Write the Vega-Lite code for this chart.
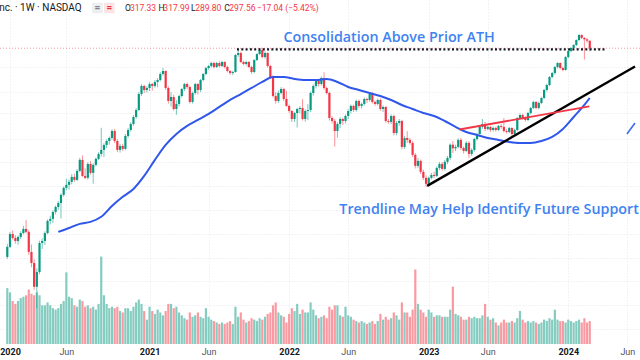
{
"$schema":"https://vega.github.io/schema/vega-lite/v6.json",
"width":640,"height":344,
"autosize":{"type":"none"},
"padding":{"left":0,"top":0,"right":0,"bottom":16},
"background":"#ffffff",
"config":{"view":{"stroke":null},"font":"Roboto","text":{"font":"Roboto"}},
"datasets":{
"w":[
{"d":"2019-12-30","o":49.6,"h":55.5,"l":48.8,"c":54.1,"v":39},
{"d":"2020-01-06","o":54.1,"h":61.5,"l":53.5,"c":60.4,"v":36},
{"d":"2020-01-13","o":60.4,"h":62.3,"l":57.6,"c":58.4,"v":30},
{"d":"2020-01-20","o":58.4,"h":59.8,"l":55.6,"c":56.9,"v":28},
{"d":"2020-01-27","o":56.9,"h":59.6,"l":55.1,"c":58.9,"v":30},
{"d":"2020-02-03","o":58.9,"h":61.8,"l":57.8,"c":60.9,"v":32},
{"d":"2020-02-10","o":60.9,"h":64.8,"l":60.2,"c":63.1,"v":33},
{"d":"2020-02-17","o":63.1,"h":68.2,"l":60.6,"c":61.5,"v":34},
{"d":"2020-02-24","o":61.5,"h":62.4,"l":50.5,"c":51.8,"v":38},
{"d":"2020-03-02","o":51.8,"h":55.2,"l":45.4,"c":47.1,"v":35},
{"d":"2020-03-09","o":47.1,"h":48.6,"l":37.4,"c":38.4,"v":34},
{"d":"2020-03-16","o":38.4,"h":45.0,"l":31.9,"c":43.6,"v":36},
{"d":"2020-03-23","o":43.6,"h":57.0,"l":42.8,"c":55.9,"v":34},
{"d":"2020-03-30","o":55.9,"h":58.2,"l":53.1,"c":56.9,"v":27},
{"d":"2020-04-06","o":56.9,"h":61.9,"l":55.0,"c":60.9,"v":27},
{"d":"2020-04-13","o":60.9,"h":68.4,"l":60.2,"c":67.6,"v":29},
{"d":"2020-04-20","o":67.6,"h":70.6,"l":65.5,"c":68.8,"v":27},
{"d":"2020-04-27","o":68.8,"h":74.0,"l":66.4,"c":73.0,"v":25},
{"d":"2020-05-04","o":73.0,"h":77.2,"l":71.5,"c":76.2,"v":24},
{"d":"2020-05-11","o":76.2,"h":80.1,"l":74.4,"c":78.8,"v":25},
{"d":"2020-05-18","o":78.8,"h":85.6,"l":69.0,"c":84.5,"v":28},
{"d":"2020-05-25","o":84.5,"h":90.8,"l":83.2,"c":89.7,"v":30},
{"d":"2020-06-01","o":89.7,"h":97.0,"l":88.0,"c":92.1,"v":50},
{"d":"2020-06-08","o":92.1,"h":96.4,"l":88.4,"c":94.5,"v":33},
{"d":"2020-06-15","o":94.5,"h":101.0,"l":92.5,"c":98.6,"v":32},
{"d":"2020-06-22","o":98.6,"h":101.5,"l":94.6,"c":96.1,"v":27},
{"d":"2020-06-29","o":96.1,"h":105.4,"l":95.0,"c":103.8,"v":26},
{"d":"2020-07-06","o":103.8,"h":116.0,"l":102.6,"c":114.1,"v":31},
{"d":"2020-07-13","o":114.1,"h":118.5,"l":98.6,"c":99.4,"v":30},
{"d":"2020-07-20","o":99.4,"h":106.2,"l":96.6,"c":97.8,"v":26},
{"d":"2020-07-27","o":97.8,"h":111.8,"l":96.5,"c":110.2,"v":27},
{"d":"2020-08-03","o":110.2,"h":113.0,"l":100.6,"c":102.1,"v":25},
{"d":"2020-08-10","o":102.1,"h":110.9,"l":93.0,"c":109.3,"v":26},
{"d":"2020-08-17","o":109.3,"h":116.5,"l":107.8,"c":115.1,"v":24},
{"d":"2020-08-24","o":115.1,"h":121.9,"l":113.8,"c":120.1,"v":28},
{"d":"2020-08-31","o":120.1,"h":150.3,"l":117.5,"c":124.3,"v":61},
{"d":"2020-09-07","o":124.3,"h":131.6,"l":117.0,"c":129.7,"v":34},
{"d":"2020-09-14","o":129.7,"h":136.0,"l":126.4,"c":134.2,"v":28},
{"d":"2020-09-21","o":134.2,"h":139.6,"l":130.0,"c":137.7,"v":25},
{"d":"2020-09-28","o":137.7,"h":148.4,"l":135.8,"c":146.2,"v":26},
{"d":"2020-10-05","o":146.2,"h":148.8,"l":132.0,"c":134.2,"v":25},
{"d":"2020-10-12","o":134.2,"h":136.2,"l":122.0,"c":124.3,"v":26},
{"d":"2020-10-19","o":124.3,"h":130.8,"l":121.5,"c":128.6,"v":23},
{"d":"2020-10-26","o":128.6,"h":131.0,"l":123.2,"c":125.4,"v":22},
{"d":"2020-11-02","o":125.4,"h":142.5,"l":124.0,"c":140.1,"v":25},
{"d":"2020-11-09","o":140.1,"h":149.9,"l":137.5,"c":147.5,"v":25},
{"d":"2020-11-16","o":147.5,"h":157.8,"l":145.4,"c":155.3,"v":23},
{"d":"2020-11-23","o":155.3,"h":167.5,"l":153.0,"c":164.9,"v":26},
{"d":"2020-11-30","o":164.9,"h":178.0,"l":162.3,"c":175.1,"v":29},
{"d":"2020-12-07","o":175.1,"h":204.0,"l":173.5,"c":200.8,"v":31},
{"d":"2020-12-14","o":200.8,"h":218.5,"l":197.6,"c":215.2,"v":28},
{"d":"2020-12-21","o":215.2,"h":217.4,"l":202.6,"c":207.9,"v":23},
{"d":"2020-12-28","o":207.9,"h":214.8,"l":203.5,"c":211.5,"v":17},
{"d":"2021-01-04","o":211.5,"h":222.3,"l":206.0,"c":218.9,"v":26},
{"d":"2021-01-11","o":218.9,"h":221.0,"l":206.5,"c":215.2,"v":23},
{"d":"2021-01-18","o":215.2,"h":226.3,"l":212.0,"c":222.7,"v":21},
{"d":"2021-01-25","o":222.7,"h":230.0,"l":212.8,"c":226.5,"v":24},
{"d":"2021-02-01","o":226.5,"h":242.2,"l":224.0,"c":238.4,"v":22},
{"d":"2021-02-08","o":238.4,"h":251.3,"l":235.0,"c":244.7,"v":20},
{"d":"2021-02-15","o":244.7,"h":246.0,"l":208.0,"c":211.5,"v":23},
{"d":"2021-02-22","o":211.5,"h":214.5,"l":185.0,"c":189.2,"v":28},
{"d":"2021-03-01","o":189.2,"h":204.0,"l":180.2,"c":195.7,"v":28},
{"d":"2021-03-08","o":195.7,"h":199.5,"l":174.0,"c":176.6,"v":25},
{"d":"2021-03-15","o":176.6,"h":190.5,"l":168.0,"c":184.4,"v":26},
{"d":"2021-03-22","o":184.4,"h":199.8,"l":180.6,"c":197.4,"v":22},
{"d":"2021-03-29","o":197.4,"h":211.3,"l":194.8,"c":209.7,"v":20},
{"d":"2021-04-05","o":209.7,"h":221.0,"l":206.0,"c":218.9,"v":18},
{"d":"2021-04-12","o":218.9,"h":221.6,"l":210.0,"c":213.3,"v":17},
{"d":"2021-04-19","o":213.3,"h":215.6,"l":185.0,"c":187.6,"v":22},
{"d":"2021-04-26","o":187.6,"h":204.8,"l":185.2,"c":202.6,"v":19},
{"d":"2021-05-03","o":202.6,"h":221.0,"l":199.6,"c":218.9,"v":20},
{"d":"2021-05-10","o":218.9,"h":220.5,"l":200.0,"c":207.9,"v":22},
{"d":"2021-05-17","o":207.9,"h":228.6,"l":204.0,"c":226.5,"v":19},
{"d":"2021-05-24","o":226.5,"h":240.5,"l":224.0,"c":238.4,"v":18},
{"d":"2021-05-31","o":238.4,"h":253.5,"l":236.0,"c":251.1,"v":25},
{"d":"2021-06-07","o":251.1,"h":258.0,"l":247.5,"c":255.4,"v":19},
{"d":"2021-06-14","o":255.4,"h":264.8,"l":252.0,"c":262.0,"v":17},
{"d":"2021-06-21","o":262.0,"h":265.0,"l":250.0,"c":253.2,"v":16},
{"d":"2021-06-28","o":253.2,"h":264.6,"l":250.8,"c":262.0,"v":15},
{"d":"2021-07-05","o":262.0,"h":266.0,"l":252.4,"c":255.4,"v":14},
{"d":"2021-07-12","o":255.4,"h":267.0,"l":253.0,"c":264.3,"v":15},
{"d":"2021-07-19","o":264.3,"h":266.2,"l":250.0,"c":253.2,"v":14},
{"d":"2021-07-26","o":253.2,"h":256.0,"l":242.0,"c":244.7,"v":15},
{"d":"2021-08-02","o":244.7,"h":247.0,"l":236.5,"c":240.5,"v":16},
{"d":"2021-08-09","o":240.5,"h":245.0,"l":236.0,"c":242.6,"v":14},
{"d":"2021-08-16","o":242.6,"h":283.0,"l":241.0,"c":280.6,"v":26},
{"d":"2021-08-23","o":280.6,"h":293.0,"l":276.0,"c":285.5,"v":19},
{"d":"2021-08-30","o":285.5,"h":289.0,"l":262.0,"c":264.3,"v":22},
{"d":"2021-09-06","o":264.3,"h":267.0,"l":257.0,"c":259.8,"v":17},
{"d":"2021-09-13","o":259.8,"h":267.0,"l":256.0,"c":264.3,"v":15},
{"d":"2021-09-20","o":264.3,"h":266.5,"l":250.5,"c":253.2,"v":16},
{"d":"2021-09-27","o":253.2,"h":256.0,"l":238.0,"c":242.6,"v":18},
{"d":"2021-10-04","o":242.6,"h":271.0,"l":240.0,"c":268.8,"v":17},
{"d":"2021-10-11","o":268.8,"h":285.0,"l":266.5,"c":283.0,"v":16},
{"d":"2021-10-18","o":283.0,"h":297.0,"l":280.5,"c":292.9,"v":18},
{"d":"2021-10-25","o":292.9,"h":298.5,"l":273.0,"c":275.8,"v":17},
{"d":"2021-11-01","o":275.8,"h":290.0,"l":272.0,"c":285.5,"v":19},
{"d":"2021-11-08","o":285.5,"h":287.5,"l":252.0,"c":255.4,"v":21},
{"d":"2021-11-15","o":255.4,"h":258.0,"l":229.0,"c":232.4,"v":22},
{"d":"2021-11-22","o":232.4,"h":236.0,"l":195.0,"c":197.4,"v":27},
{"d":"2021-11-29","o":197.4,"h":204.0,"l":185.0,"c":189.2,"v":29},
{"d":"2021-12-06","o":189.2,"h":207.0,"l":186.0,"c":202.6,"v":22},
{"d":"2021-12-13","o":202.6,"h":213.0,"l":200.0,"c":209.7,"v":20},
{"d":"2021-12-20","o":209.7,"h":212.0,"l":189.0,"c":192.4,"v":19},
{"d":"2021-12-27","o":192.4,"h":206.5,"l":180.0,"c":181.3,"v":15},
{"d":"2022-01-03","o":181.3,"h":183.5,"l":171.0,"c":173.6,"v":21},
{"d":"2022-01-10","o":173.6,"h":175.0,"l":158.0,"c":162.1,"v":25},
{"d":"2022-01-17","o":162.1,"h":172.0,"l":158.0,"c":170.6,"v":23},
{"d":"2022-01-24","o":170.6,"h":178.5,"l":150.5,"c":176.6,"v":28},
{"d":"2022-01-31","o":176.6,"h":181.0,"l":170.0,"c":178.2,"v":21},
{"d":"2022-02-07","o":178.2,"h":192.0,"l":160.0,"c":162.1,"v":24},
{"d":"2022-02-14","o":162.1,"h":176.0,"l":158.5,"c":173.6,"v":22},
{"d":"2022-02-21","o":173.6,"h":184.0,"l":160.5,"c":175.1,"v":22},
{"d":"2022-02-28","o":175.1,"h":205.0,"l":172.0,"c":202.6,"v":29},
{"d":"2022-03-07","o":202.6,"h":218.0,"l":198.0,"c":215.2,"v":24},
{"d":"2022-03-14","o":215.2,"h":228.0,"l":210.5,"c":224.6,"v":20},
{"d":"2022-03-21","o":224.6,"h":227.0,"l":214.0,"c":218.9,"v":18},
{"d":"2022-03-28","o":218.9,"h":233.5,"l":216.0,"c":230.5,"v":19},
{"d":"2022-04-04","o":230.5,"h":242.0,"l":208.0,"c":211.5,"v":20},
{"d":"2022-04-11","o":211.5,"h":214.0,"l":200.0,"c":202.6,"v":18},
{"d":"2022-04-18","o":202.6,"h":205.0,"l":160.0,"c":163.5,"v":26},
{"d":"2022-04-25","o":163.5,"h":166.0,"l":156.0,"c":159.3,"v":24},
{"d":"2022-05-02","o":159.3,"h":162.0,"l":128.0,"c":146.2,"v":27},
{"d":"2022-05-09","o":146.2,"h":157.5,"l":138.0,"c":155.3,"v":27},
{"d":"2022-05-16","o":155.3,"h":164.5,"l":150.0,"c":162.1,"v":20},
{"d":"2022-05-23","o":162.1,"h":164.0,"l":154.0,"c":159.3,"v":19},
{"d":"2022-05-30","o":159.3,"h":168.5,"l":156.0,"c":166.3,"v":26},
{"d":"2022-06-06","o":166.3,"h":176.0,"l":162.0,"c":173.6,"v":20},
{"d":"2022-06-13","o":173.6,"h":183.5,"l":170.0,"c":181.3,"v":19},
{"d":"2022-06-20","o":181.3,"h":183.0,"l":172.0,"c":175.1,"v":17},
{"d":"2022-06-27","o":175.1,"h":191.5,"l":172.5,"c":189.2,"v":16},
{"d":"2022-07-04","o":189.2,"h":191.0,"l":178.0,"c":181.3,"v":15},
{"d":"2022-07-11","o":181.3,"h":186.5,"l":177.5,"c":184.4,"v":16},
{"d":"2022-07-18","o":184.4,"h":195.0,"l":182.0,"c":192.4,"v":15},
{"d":"2022-07-25","o":192.4,"h":194.5,"l":186.0,"c":190.8,"v":14},
{"d":"2022-08-01","o":190.8,"h":203.0,"l":188.0,"c":200.8,"v":15},
{"d":"2022-08-08","o":200.8,"h":204.0,"l":185.0,"c":187.6,"v":16},
{"d":"2022-08-15","o":187.6,"h":190.0,"l":181.5,"c":184.4,"v":14},
{"d":"2022-08-22","o":184.4,"h":193.0,"l":182.0,"c":190.8,"v":16},
{"d":"2022-08-29","o":190.8,"h":193.5,"l":174.0,"c":176.6,"v":21},
{"d":"2022-09-05","o":176.6,"h":182.0,"l":172.0,"c":179.7,"v":17},
{"d":"2022-09-12","o":179.7,"h":181.0,"l":157.0,"c":159.3,"v":19},
{"d":"2022-09-19","o":159.3,"h":162.0,"l":155.5,"c":158.0,"v":17},
{"d":"2022-09-26","o":158.0,"h":168.5,"l":155.0,"c":166.3,"v":18},
{"d":"2022-10-03","o":166.3,"h":168.0,"l":141.0,"c":143.7,"v":22},
{"d":"2022-10-10","o":143.7,"h":159.0,"l":141.0,"c":156.6,"v":20},
{"d":"2022-10-17","o":156.6,"h":162.0,"l":153.0,"c":159.3,"v":17},
{"d":"2022-10-24","o":159.3,"h":161.0,"l":125.0,"c":127.5,"v":29},
{"d":"2022-10-31","o":127.5,"h":140.0,"l":125.5,"c":137.7,"v":22},
{"d":"2022-11-07","o":137.7,"h":146.0,"l":132.0,"c":135.4,"v":22},
{"d":"2022-11-14","o":135.4,"h":138.0,"l":130.0,"c":132.0,"v":19},
{"d":"2022-11-21","o":132.0,"h":134.0,"l":117.0,"c":119.1,"v":24},
{"d":"2022-11-28","o":119.1,"h":121.0,"l":106.0,"c":108.4,"v":52},
{"d":"2022-12-05","o":108.4,"h":116.0,"l":106.5,"c":113.1,"v":28},
{"d":"2022-12-12","o":113.1,"h":114.5,"l":101.0,"c":103.0,"v":24},
{"d":"2022-12-19","o":103.0,"h":105.0,"l":96.0,"c":97.8,"v":22},
{"d":"2022-12-26","o":97.8,"h":100.0,"l":90.5,"c":92.9,"v":19},
{"d":"2023-01-02","o":92.9,"h":99.0,"l":92.0,"c":97.8,"v":24},
{"d":"2023-01-09","o":97.8,"h":102.0,"l":96.5,"c":100.3,"v":22},
{"d":"2023-01-16","o":100.3,"h":103.0,"l":97.5,"c":99.4,"v":19},
{"d":"2023-01-23","o":99.4,"h":108.0,"l":98.5,"c":106.5,"v":20},
{"d":"2023-01-30","o":106.5,"h":112.0,"l":104.5,"c":110.2,"v":20},
{"d":"2023-02-06","o":110.2,"h":112.0,"l":104.0,"c":105.6,"v":19},
{"d":"2023-02-13","o":105.6,"h":114.0,"l":104.0,"c":112.2,"v":19},
{"d":"2023-02-20","o":112.2,"h":118.0,"l":110.0,"c":116.1,"v":19},
{"d":"2023-02-27","o":116.1,"h":131.5,"l":114.0,"c":130.0,"v":24},
{"d":"2023-03-06","o":130.0,"h":134.0,"l":121.0,"c":126.0,"v":40},
{"d":"2023-03-13","o":126.0,"h":130.0,"l":123.0,"c":127.5,"v":21},
{"d":"2023-03-20","o":127.5,"h":137.5,"l":126.0,"c":135.4,"v":20},
{"d":"2023-03-27","o":135.4,"h":138.0,"l":124.0,"c":126.4,"v":19},
{"d":"2023-04-03","o":126.4,"h":128.0,"l":120.5,"c":123.2,"v":17},
{"d":"2023-04-10","o":123.2,"h":134.0,"l":122.0,"c":132.0,"v":17},
{"d":"2023-04-17","o":132.0,"h":134.0,"l":116.0,"c":120.1,"v":19},
{"d":"2023-04-24","o":120.1,"h":126.0,"l":118.0,"c":124.3,"v":18},
{"d":"2023-05-01","o":124.3,"h":138.0,"l":122.5,"c":136.5,"v":19},
{"d":"2023-05-08","o":136.5,"h":144.0,"l":134.5,"c":142.5,"v":18},
{"d":"2023-05-15","o":142.5,"h":153.0,"l":140.5,"c":151.4,"v":18},
{"d":"2023-05-22","o":151.4,"h":162.0,"l":149.0,"c":155.3,"v":20},
{"d":"2023-05-29","o":155.3,"h":158.0,"l":146.0,"c":148.8,"v":28},
{"d":"2023-06-05","o":148.8,"h":153.5,"l":147.0,"c":151.4,"v":19},
{"d":"2023-06-12","o":151.4,"h":153.0,"l":145.0,"c":147.5,"v":17},
{"d":"2023-06-19","o":147.5,"h":152.0,"l":145.5,"c":150.1,"v":18},
{"d":"2023-06-26","o":150.1,"h":151.5,"l":145.5,"c":147.5,"v":15},
{"d":"2023-07-03","o":147.5,"h":154.0,"l":146.0,"c":152.7,"v":13},
{"d":"2023-07-10","o":152.7,"h":155.0,"l":149.0,"c":151.4,"v":15},
{"d":"2023-07-17","o":151.4,"h":163.5,"l":144.5,"c":146.2,"v":17},
{"d":"2023-07-24","o":146.2,"h":148.5,"l":143.0,"c":145.0,"v":15},
{"d":"2023-07-31","o":145.0,"h":151.5,"l":143.5,"c":150.1,"v":15},
{"d":"2023-08-07","o":150.1,"h":151.0,"l":140.0,"c":142.5,"v":16},
{"d":"2023-08-14","o":142.5,"h":149.0,"l":141.0,"c":147.5,"v":15},
{"d":"2023-08-21","o":147.5,"h":165.0,"l":146.0,"c":163.5,"v":18},
{"d":"2023-08-28","o":163.5,"h":170.0,"l":161.0,"c":167.7,"v":23},
{"d":"2023-09-04","o":167.7,"h":169.5,"l":161.0,"c":163.5,"v":17},
{"d":"2023-09-11","o":163.5,"h":165.5,"l":158.5,"c":160.7,"v":15},
{"d":"2023-09-18","o":160.7,"h":172.5,"l":159.0,"c":170.6,"v":16},
{"d":"2023-09-25","o":170.6,"h":180.0,"l":168.5,"c":178.2,"v":15},
{"d":"2023-10-02","o":178.2,"h":189.5,"l":176.5,"c":187.6,"v":16},
{"d":"2023-10-09","o":187.6,"h":189.0,"l":176.0,"c":178.2,"v":15},
{"d":"2023-10-16","o":178.2,"h":188.0,"l":176.0,"c":186.0,"v":14},
{"d":"2023-10-23","o":186.0,"h":196.0,"l":184.0,"c":194.1,"v":15},
{"d":"2023-10-30","o":194.1,"h":210.0,"l":192.5,"c":207.9,"v":17},
{"d":"2023-11-06","o":207.9,"h":219.0,"l":205.0,"c":217.0,"v":16},
{"d":"2023-11-13","o":217.0,"h":234.5,"l":215.0,"c":232.4,"v":18},
{"d":"2023-11-20","o":232.4,"h":242.5,"l":230.0,"c":240.5,"v":17},
{"d":"2023-11-27","o":240.5,"h":255.5,"l":237.0,"c":253.2,"v":24},
{"d":"2023-12-04","o":253.2,"h":264.0,"l":250.0,"c":262.0,"v":17},
{"d":"2023-12-11","o":262.0,"h":263.5,"l":248.0,"c":251.1,"v":16},
{"d":"2023-12-18","o":251.1,"h":254.0,"l":244.0,"c":246.8,"v":16},
{"d":"2023-12-25","o":246.8,"h":278.0,"l":245.5,"c":275.8,"v":15},
{"d":"2024-01-01","o":275.8,"h":293.0,"l":273.0,"c":290.4,"v":17},
{"d":"2024-01-08","o":290.4,"h":300.0,"l":287.0,"c":298.0,"v":16},
{"d":"2024-01-15","o":298.0,"h":308.0,"l":295.0,"c":305.8,"v":15},
{"d":"2024-01-22","o":305.8,"h":321.0,"l":303.0,"c":319.2,"v":16},
{"d":"2024-01-29","o":319.2,"h":336.0,"l":316.0,"c":333.2,"v":17},
{"d":"2024-02-05","o":333.2,"h":335.5,"l":322.0,"c":324.9,"v":15},
{"d":"2024-02-12","o":324.9,"h":327.5,"l":270.0,"c":321.0,"v":18},
{"d":"2024-02-19","o":321.0,"h":325.0,"l":312.0,"c":317.33,"v":15},
{"d":"2024-02-26","o":317.33,"h":317.99,"l":289.8,"c":297.56,"v":16}
],
"ma":[
{"d":"2020-05-11","m":61.5},{"d":"2020-06-08","m":63.6},{"d":"2020-07-06","m":65.9},{"d":"2020-08-03","m":67.0},{"d":"2020-08-31","m":70.0},{"d":"2020-09-28","m":76.8},{"d":"2020-10-26","m":83.1},{"d":"2020-11-23","m":88.9},{"d":"2020-12-21","m":99.4},{"d":"2021-01-18","m":114.1},{"d":"2021-02-15","m":129.7},{"d":"2021-03-15","m":142.5},{"d":"2021-04-12","m":152.7},{"d":"2021-05-10","m":160.7},{"d":"2021-06-07","m":169.2},{"d":"2021-07-05","m":179.7},{"d":"2021-08-02","m":190.8},{"d":"2021-08-30","m":200.8},{"d":"2021-09-27","m":211.5},{"d":"2021-10-25","m":222.7},{"d":"2021-11-22","m":232.4},{"d":"2021-12-20","m":232.4},{"d":"2022-01-17","m":228.5},{"d":"2022-02-14","m":226.5},{"d":"2022-03-14","m":226.5},{"d":"2022-04-11","m":228.5},{"d":"2022-05-09","m":222.7},{"d":"2022-06-06","m":213.3},{"d":"2022-07-04","m":207.9},{"d":"2022-08-01","m":202.6},{"d":"2022-08-29","m":197.4},{"d":"2022-09-26","m":190.8},{"d":"2022-10-24","m":182.8},{"d":"2022-11-21","m":176.6},{"d":"2022-12-19","m":170.6},{"d":"2023-01-16","m":166.3},{"d":"2023-02-13","m":159.3},{"d":"2023-03-13","m":151.4},{"d":"2023-04-10","m":145.0},{"d":"2023-05-08","m":141.3},{"d":"2023-06-05","m":137.7},{"d":"2023-07-03","m":135.4},{"d":"2023-07-31","m":133.1},{"d":"2023-08-28","m":132.0},{"d":"2023-09-25","m":132.0},{"d":"2023-10-23","m":134.2},{"d":"2023-11-20","m":138.9},{"d":"2023-12-18","m":148.8},{"d":"2024-01-15","m":164.9},{"d":"2024-02-12","m":182.8},{"d":"2024-02-26","m":194.1}
],
"draw":[
{"g":"ath","d":"2021-08-20","p":294.5},{"g":"ath","d":"2024-04-06","p":294.5},
{"g":"trend","d":"2022-12-29","p":91.3},{"g":"trend","d":"2024-06-23","p":254.3},
{"g":"red","d":"2023-03-23","p":148.1},{"g":"red","d":"2024-02-25","p":180.7},
{"g":"blue","d":"2024-06-02","p":142.5},{"g":"blue","d":"2024-06-23","p":156.6}
],
"notes":[
{"d":"2021-12-19","p":326.1,"t":"Consolidation Above Prior ATH"},
{"d":"2022-05-14","p":74.3,"t":"Trendline May Help Identify Future Support"}
],
"hdr":[
{"d":"2020-07-11","p":420,"t":"CrowdStrike Holdings, Inc. · 1W · NASDAQ","k":"title"},
{"d":"2020-08-21","p":420,"t":"=","k":"button"},
{"d":"2020-09-21","p":420,"t":"=","k":"button-down"},
{"d":"2020-11-01","p":420,"t":"O","k":"label"},
{"d":"2020-11-14","p":420,"t":"317.33","k":"value"},
{"d":"2021-01-27","p":420,"t":"H","k":"label"},
{"d":"2021-02-09","p":420,"t":"317.99","k":"value"},
{"d":"2021-04-22","p":420,"t":"L","k":"label"},
{"d":"2021-05-03","p":420,"t":"289.80","k":"value"},
{"d":"2021-07-18","p":420,"t":"C","k":"label"},
{"d":"2021-07-31","p":420,"t":"297.56","k":"value"},
{"d":"2021-10-11","p":420,"t":"−17.04 (−5.42%)","k":"value"}
],
"last":[{"p":297.56}]
},
"layer":[
{"data":{"name":"w"},"mark":{"type":"bar","size":2.2},
 "encoding":{
  "x":{"field":"d","type":"temporal","title":null,
   "scale":{"domain":[{"year":2019,"month":12,"date":24,"utc":true},{"year":2024,"month":6,"date":23,"utc":true}],"nice":false},
   "axis":{"values":[{"year":2020,"month":1,"date":6,"utc":true},{"year":2020,"month":6,"date":1,"utc":true},{"year":2021,"month":1,"date":4,"utc":true},{"year":2021,"month":6,"date":7,"utc":true},{"year":2022,"month":1,"date":3,"utc":true},{"year":2022,"month":6,"date":6,"utc":true},{"year":2023,"month":1,"date":2,"utc":true},{"year":2023,"month":6,"date":5,"utc":true},{"year":2024,"month":1,"date":1,"utc":true},{"year":2024,"month":6,"date":3,"utc":true}],
    "grid":true,"gridColor":"#e3e6ee","gridDash":[1,2],"domain":false,"ticks":false,"tickSize":0,"labelPadding":3,"labelFontSize":9,"labelFont":"Roboto",
    "labelColor":{"condition":{"test":"utcmonth(datum.value)==0","value":"#131722"},"value":"#50535e"},
    "labelFontWeight":{"condition":{"test":"utcmonth(datum.value)==0","value":"bold"},"value":"normal"},
    "labelFlush":false,"labelOverlap":false,"labelBound":false,
    "labelExpr":"utcmonth(datum.value)==0 ? utcFormat(datum.value,'%Y') : 'Jun'"}},
  "y":{"field":"v","type":"quantitative","title":null,"scale":{"domain":[0,240],"nice":false,"zero":true},"axis":null},
  "color":{"condition":{"test":"datum.c >= datum.o","value":"#84ccc0"},"value":"#f99aa2"}
 }},
{"layer":[
 {"data":{"name":"last"},"mark":{"type":"rule","color":"#f23645","strokeDash":[1,2],"strokeWidth":1,"opacity":0.55},
  "encoding":{"y":{"field":"p","type":"quantitative","title":null,"scale":{"type":"log","domain":[23.5,450],"nice":false,"zero":false},
   "axis":{"values":[253.1,204.4,170.6,136.5,112.2,91.3,74.3,60.4,49.2,40.4,32.9,26.8],"labels":false,"ticks":false,"domain":false,"grid":true,"gridColor":"#e9e4ea","gridDash":[1,2],"title":null}}}},
 {"data":{"name":"w"},"mark":{"type":"rule","strokeWidth":1,"opacity":0.55},
  "encoding":{"x":{"field":"d","type":"temporal","title":null},
   "y":{"field":"l","type":"quantitative","title":null,"scale":{"type":"log","domain":[23.5,450],"nice":false,"zero":false}},
   "y2":{"field":"h"},
   "color":{"condition":{"test":"datum.c >= datum.o","value":"#089981"},"value":"#f23645"}}},
 {"data":{"name":"w"},"mark":{"type":"bar","size":2.2},
  "encoding":{"x":{"field":"d","type":"temporal","title":null},
   "y":{"field":"o","type":"quantitative","title":null,"scale":{"type":"log","domain":[23.5,450],"nice":false,"zero":false}},
   "y2":{"field":"c"},
   "color":{"condition":{"test":"datum.c >= datum.o","value":"#089981"},"value":"#f23645"}}},
 {"data":{"name":"ma"},"mark":{"type":"line","color":"#2f57ec","strokeWidth":2,"interpolate":"monotone"},
  "encoding":{"x":{"field":"d","type":"temporal","title":null},
   "y":{"field":"m","type":"quantitative","title":null,"scale":{"type":"log","domain":[23.5,450],"nice":false,"zero":false}}}},
 {"data":{"name":"draw"},"transform":[{"filter":"datum.g=='ath'"}],"mark":{"type":"line","color":"#131722","strokeWidth":2.2,"strokeDash":[2,2.3]},
  "encoding":{"x":{"field":"d","type":"temporal","title":null},"y":{"field":"p","type":"quantitative","title":null,"scale":{"type":"log","domain":[23.5,450],"nice":false,"zero":false}}}},
 {"data":{"name":"draw"},"transform":[{"filter":"datum.g=='trend'"}],"mark":{"type":"line","color":"#000000","strokeWidth":2.4,"clip":true},
  "encoding":{"x":{"field":"d","type":"temporal","title":null},"y":{"field":"p","type":"quantitative","title":null,"scale":{"type":"log","domain":[23.5,450],"nice":false,"zero":false}}}},
 {"data":{"name":"draw"},"transform":[{"filter":"datum.g=='red'"}],"mark":{"type":"line","color":"#f23645","strokeWidth":1.8},
  "encoding":{"x":{"field":"d","type":"temporal","title":null},"y":{"field":"p","type":"quantitative","title":null,"scale":{"type":"log","domain":[23.5,450],"nice":false,"zero":false}}}},
 {"data":{"name":"draw"},"transform":[{"filter":"datum.g=='blue'"}],"mark":{"type":"line","color":"#3b6cf2","strokeWidth":1.6,"clip":true},
  "encoding":{"x":{"field":"d","type":"temporal","title":null},"y":{"field":"p","type":"quantitative","title":null,"scale":{"type":"log","domain":[23.5,450],"nice":false,"zero":false}}}},
 {"data":{"name":"notes"},"mark":{"type":"text","align":"left","baseline":"middle","font":"Open Sans","fontSize":14.3,"fontWeight":600,"color":"#3f82f1"},
  "encoding":{"x":{"field":"d","type":"temporal","title":null},"y":{"field":"p","type":"quantitative","title":null,"scale":{"type":"log","domain":[23.5,450],"nice":false,"zero":false}},"text":{"field":"t"}}},
 {"data":{"name":"hdr"},"transform":[{"filter":"datum.k=='title'"}],"mark":{"type":"text","align":"right","baseline":"middle","fontSize":10,"color":"#131722"},
  "encoding":{"x":{"field":"d","type":"temporal","title":null},"y":{"field":"p","type":"quantitative","title":null,"scale":{"type":"log","domain":[23.5,450],"nice":false,"zero":false}},"text":{"field":"t"}}},
 {"data":{"name":"hdr"},"transform":[{"filter":"datum.k=='button' || datum.k=='button-down'"}],"mark":{"type":"point","shape":"square","filled":true,"size":110,"opacity":1},
  "encoding":{"x":{"field":"d","type":"temporal","title":null},"y":{"field":"p","type":"quantitative","title":null,"scale":{"type":"log","domain":[23.5,450],"nice":false,"zero":false}},
   "color":{"condition":{"test":"datum.k=='button-down'","value":"#fde3e6"},"value":"#eceef2"}}},
 {"data":{"name":"hdr"},"transform":[{"filter":"datum.k=='button' || datum.k=='button-down'"}],"mark":{"type":"text","align":"center","baseline":"middle","fontSize":10,"fontWeight":"bold"},
  "encoding":{"x":{"field":"d","type":"temporal","title":null},"y":{"field":"p","type":"quantitative","title":null,"scale":{"type":"log","domain":[23.5,450],"nice":false,"zero":false}},"text":{"field":"t"},
   "color":{"condition":{"test":"datum.k=='button-down'","value":"#f23645"},"value":"#7d818c"}}},
 {"data":{"name":"hdr"},"transform":[{"filter":"datum.k=='label' || datum.k=='value'"}],"mark":{"type":"text","align":"left","baseline":"middle","fontSize":8.5},
  "encoding":{"x":{"field":"d","type":"temporal","title":null},"y":{"field":"p","type":"quantitative","title":null,"scale":{"type":"log","domain":[23.5,450],"nice":false,"zero":false}},"text":{"field":"t"},
   "color":{"condition":{"test":"datum.k=='value'","value":"#f23645"},"value":"#131722"}}}
]}
],
"resolve":{"scale":{"y":"independent"}}
}
